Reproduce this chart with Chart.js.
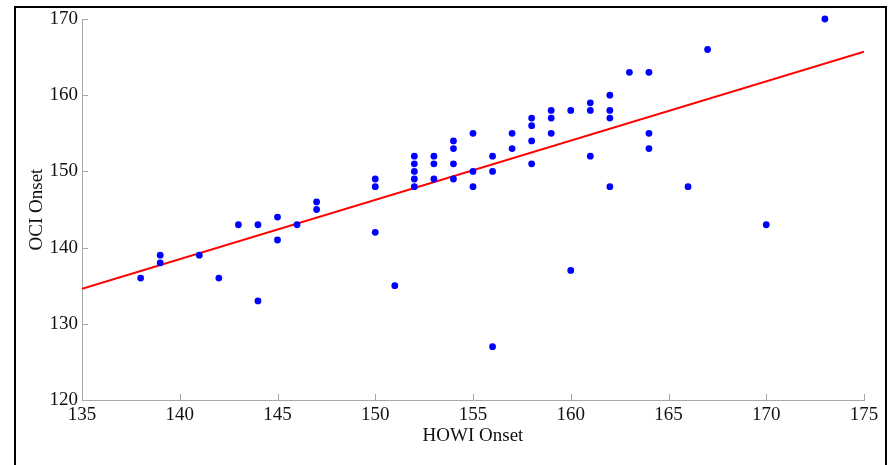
<!DOCTYPE html>
<html>
<head>
<meta charset="utf-8">
<script src="https://cdn.jsdelivr.net/npm/chart.js@4/dist/chart.umd.min.js"></script>
<style>
  body { margin: 0; background: #fff; }
  #wrap { position: relative; width: 893px; height: 465px; }
  #frame {
    position: absolute; left: 14px; top: 6px; width: 873px; height: 470px;
    box-sizing: border-box; border: 2px solid #000; border-bottom: none;
    pointer-events: none;
  }
</style>
</head>
<body>
<div id="wrap">
  <canvas id="myChart" width="893" height="465"></canvas>
  <div id="frame"></div>
</div>
<script>
// HOWI onset (x) and OCI onset (y), one entry per point
const howi = [138, 139, 139, 141, 142, 143, 144, 144, 145, 145, 146, 147, 147,
  150, 150, 150, 151, 152, 152, 152, 152, 152, 153, 153, 153, 154, 154, 154, 154,
  155, 155, 155, 156, 156, 156, 157, 157, 158, 158, 158, 158, 159, 159, 159,
  160, 160, 161, 161, 161, 162, 162, 162, 162, 163, 164, 164, 164, 166, 167, 170, 173];
const oci = [136, 139, 138, 139, 136, 143, 143, 133, 144, 141, 143, 146, 145,
  149, 148, 142, 135, 152, 151, 150, 149, 148, 152, 151, 149, 154, 153, 151, 149,
  155, 150, 148, 152, 150, 127, 155, 153, 157, 156, 154, 151, 158, 157, 155,
  158, 137, 159, 158, 152, 160, 158, 157, 148, 163, 163, 155, 153, 148, 166, 143, 170];

// fitted line end points
const fitX = [135, 175];
const fitY = [134.6, 165.7];

const xTicks = [135, 140, 145, 150, 155, 160, 165, 170, 175];
const yTicks = [120, 130, 140, 150, 160, 170];

const points = howi.map((x, i) => ({x: x, y: oci[i]}));
const fit = fitX.map((x, i) => ({x: x, y: fitY[i]}));

const axisColor = '#a8a8a8';
const font = {family: "'Liberation Serif', 'Times New Roman', serif", size: 19};

// ticks pointing inward, MATLAB style
const innerTicks = {
  id: 'innerTicks',
  afterDraw(chart) {
    const c = chart.ctx;
    const xs = chart.scales.x, ys = chart.scales.y;
    const a = chart.chartArea;
    c.save();
    c.strokeStyle = axisColor;
    c.lineWidth = 1;
    c.beginPath();
    for (const v of xTicks) {
      const px = Math.round(xs.getPixelForValue(v)) + 0.5;
      c.moveTo(px, a.bottom);
      c.lineTo(px, a.bottom - 6);
    }
    for (const v of yTicks) {
      const py = Math.round(ys.getPixelForValue(v)) + 0.5;
      c.moveTo(a.left, py);
      c.lineTo(a.left + 6, py);
    }
    c.stroke();
    c.restore();
  }
};

const ctx = document.getElementById('myChart');
new Chart(ctx, {
  type: 'scatter',
  data: {
    datasets: [
      {
        label: 'fit',
        type: 'line',
        data: fit,
        borderColor: '#ff0000',
        borderWidth: 2,
        pointRadius: 0,
        fill: false,
        order: 2
      },
      {
        label: 'onset',
        data: points,
        backgroundColor: '#0000ff',
        borderColor: '#0000ff',
        pointRadius: 3.4,
        borderWidth: 0,
        clip: false,
        order: 1
      }
    ]
  },
  options: {
    responsive: false,
    animation: false,
    devicePixelRatio: 1,
    layout: {padding: {left: 0, right: 29, top: 19, bottom: 0}},
    plugins: {
      legend: {display: false},
      tooltip: {enabled: false}
    },
    scales: {
      x: {
        type: 'linear',
        min: 135,
        max: 175,
        afterBuildTicks: s => { s.ticks = xTicks.map(v => ({value: v})); },
        afterFit: s => { s.height = 65; },
        grid: {drawOnChartArea: false, drawTicks: false},
        border: {color: axisColor, width: 1},
        ticks: {color: '#111', font: font, padding: 4, maxRotation: 0, autoSkip: false},
        title: {display: true, text: 'HOWI Onset', color: '#111', font: font, padding: {top: 0, bottom: 18}}
      },
      y: {
        type: 'linear',
        min: 120,
        max: 170,
        afterBuildTicks: s => { s.ticks = yTicks.map(v => ({value: v})); },
        afterFit: s => { s.width = 82; },
        grid: {drawOnChartArea: false, drawTicks: false},
        border: {color: axisColor, width: 1},
        ticks: {color: '#111', font: font, padding: 4, autoSkip: false},
        title: {display: true, text: 'OCI Onset', color: '#111', font: font, padding: {top: 26, bottom: 0}}
      }
    }
  },
  plugins: [innerTicks]
});
</script>
</body>
</html>
